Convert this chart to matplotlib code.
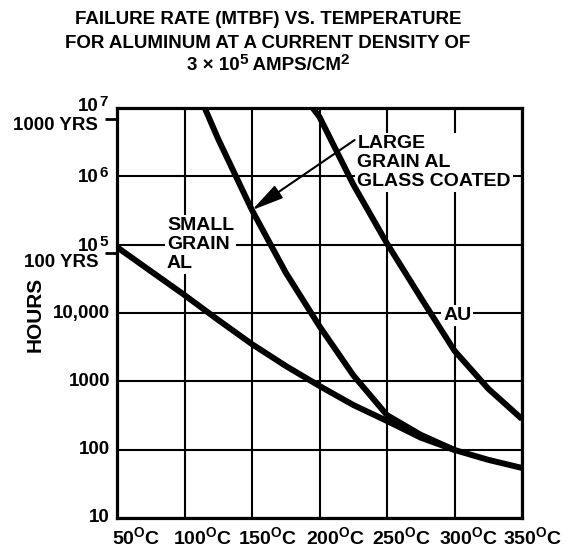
import matplotlib
matplotlib.use("Agg")
import matplotlib.pyplot as plt
from matplotlib.ticker import FixedLocator, NullFormatter
from matplotlib.transforms import ScaledTranslation

plt.rcParams['font.family'] = ['Liberation Sans', 'DejaVu Sans']
plt.rcParams['font.weight'] = 'bold'
plt.rcParams['mathtext.fontset'] = 'custom'
plt.rcParams['mathtext.rm'] = 'Liberation Sans:bold'
plt.rcParams['mathtext.it'] = 'Liberation Sans:bold'
plt.rcParams['mathtext.bf'] = 'Liberation Sans:bold'
plt.rcParams['mathtext.default'] = 'rm'

# temperature (deg C) vs. mean time between failures (hours)
small_temp = [50, 75, 100, 125, 150, 175, 200, 225, 250, 275, 300, 325, 350]
small_hours = [9.2e4, 4.1e4, 1.83e4, 7.9e3, 3.5e3, 1.68e3, 855, 451, 263,
               150, 99, 71, 54]

large_temp = [115, 125, 150, 175, 200, 225, 250, 275, 300]
large_hours = [1e7, 3.5e6, 3.2e5, 3.9e4, 6.4e3, 1.23e3, 320, 165, 99]

au_temp = [195, 200, 225, 250, 275, 300, 325, 350]
au_hours = [1e7, 7.4e6, 7.6e5, 1.04e5, 1.68e4, 2.8e3, 780, 281]

temp_ticks = [50, 100, 150, 200, 250, 300, 350]
temp_labels = [f"{t}$^{{O}}$C" for t in temp_ticks]
temp_label_shift = [19, 18, 16, 16, 15, 14, 11]
hour_ticks = [10, 100, 1000, 1e4, 1e5, 1e6, 1e7]
hour_plain = {10: "10", 100: "100", 1000: "1000", 1e4: "10,000"}
hour_power = {1e5: "5", 1e6: "6", 1e7: "7"}
power_drop = {1e5: 6, 1e6: 6, 1e7: 3}
year_ticks = [7.0e6, 7.5e4]
year_labels = ["1000 YRS", "100 YRS"]
year_offsets = [-7, -9]
stub_ticks = [1e5]

W, H = 567, 547
FS = 13.5
fig = plt.figure(figsize=(W / 100, H / 100), dpi=100)
ax = fig.add_axes([117 / W, 1 - 518 / H, 405 / W, 410 / H])

ax.set_yscale("log")
ax.set_xlim(50, 350)
ax.set_ylim(10, 1e7)

curve_kw = dict(color="black", lw=4.3, solid_capstyle="butt",
                solid_joinstyle="round", zorder=4)
ax.plot(small_temp, small_hours, **curve_kw)
ax.plot(large_temp, large_hours, **curve_kw)
ax.plot(au_temp, au_hours, **curve_kw)

ax.xaxis.set_major_locator(FixedLocator(temp_ticks))
ax.set_xticklabels(temp_labels)
ax.xaxis.set_minor_locator(FixedLocator([]))
ax.yaxis.set_major_locator(FixedLocator(hour_ticks))
ax.yaxis.set_major_formatter(NullFormatter())
ax.yaxis.set_minor_locator(FixedLocator(year_ticks + stub_ticks))
ax.yaxis.set_minor_formatter(NullFormatter())

ax.tick_params(axis="both", which="major", length=0)
ax.tick_params(axis="x", labelsize=14, pad=6)
ax.tick_params(axis="y", which="minor", length=9, width=2, direction="out")
for lab, dx in zip(ax.get_xticklabels(), temp_label_shift):
    lab.set_transform(lab.get_transform()
                      + ScaledTranslation(dx / 100, 0, fig.dpi_scale_trans))

# y labels: plain numbers, powers of ten with a big raised exponent
ycoords = ("axes fraction", "data")
for v, s in hour_plain.items():
    ax.annotate(s, xy=(0, v), xycoords=ycoords, xytext=(-7, 0),
                textcoords="offset pixels", ha="right", va="center",
                fontsize=FS)
for v, e in hour_power.items():
    drop = power_drop[v]
    ax.annotate("10", xy=(0, v), xycoords=ycoords, xytext=(-18, -drop),
                textcoords="offset pixels", ha="right", va="baseline",
                fontsize=FS)
    ax.annotate(e, xy=(0, v), xycoords=ycoords, xytext=(-18, 5 - drop),
                textcoords="offset pixels", ha="left", va="baseline",
                fontsize=11)
for y, lab, dy in zip(year_ticks, year_labels, year_offsets):
    ax.annotate(lab, xy=(0, y), xycoords=ycoords, xytext=(-19, dy),
                textcoords="offset pixels", ha="right", va="center",
                fontsize=FS)

ax.grid(True, which="major", color="black", lw=1.5, zorder=0)
ax.set_axisbelow(True)
for s in ax.spines.values():
    s.set_linewidth(2.3)

box = dict(facecolor="white", edgecolor="none", pad=1.5)
ax.text(87, 1e5, "SMALL\nGRAIN\nAL", ha="left", va="center", fontsize=14,
        linespacing=1.13, bbox=box, zorder=3)
ax.text(228, 1.6e6, "LARGE\nGRAIN AL\nGLASS COATED", ha="left",
        va="center", fontsize=14, linespacing=1.17, bbox=box, zorder=3)
ax.text(302, 9.3e3, "AU", ha="center", va="center", fontsize=14, bbox=box,
        zorder=3)
ax.annotate("", xy=(150, 3.2e5), xytext=(226, 3.4e6),
            arrowprops=dict(arrowstyle="-|>,head_length=1.5,head_width=0.35",
                            color="black", lw=1.5, mutation_scale=13,
                            shrinkA=0, shrinkB=0),
            zorder=5)

fig.text(35 / W, 1 - 314 / H, "HOURS", rotation=90, ha="center",
         va="center", fontsize=15)


def raised_line(xc, base, parts):
    """Centre a row of (text, size, raise_px) pieces on xc, baseline at base."""
    rend = fig.canvas.get_renderer()
    items = [(fig.text(0, 0, s, fontsize=size, ha="left", va="baseline"), dy)
             for s, size, dy in parts]
    widths = [t.get_window_extent(rend).width for t, _ in items]
    x = xc - sum(widths) / 2
    for (t, dy), w in zip(items, widths):
        t.set_position((x / W, 1 - (base - dy) / H))
        x += w


fig.text(268 / W, 1 - 20 / H, "FAILURE RATE (MTBF) VS. TEMPERATURE",
         ha="center", va="center", fontsize=FS)
fig.text(268 / W, 1 - 43 / H, "FOR ALUMINUM AT A CURRENT DENSITY OF",
         ha="center", va="center", fontsize=FS)
raised_line(268, 70, [("3 \u00d7 10", FS, 0), ("5", 11, 6),
                      (" AMPS/CM", FS, 0), ("2", 11, 6)])

fig.savefig("out.png", dpi=100)
